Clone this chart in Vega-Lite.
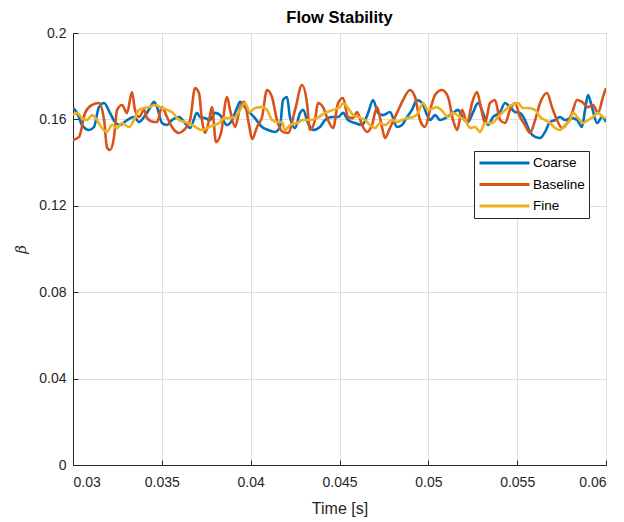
{
  "$schema": "https://vega.github.io/schema/vega-lite/v6.json",
  "width": 533,
  "height": 432,
  "autosize": {"type": "none"},
  "padding": {"left": 73, "top": 33, "right": 18, "bottom": 57},
  "background": "white",
  "title": {
    "text": "Flow Stability",
    "font": "Liberation Sans",
    "fontSize": 16.5,
    "fontWeight": "bold",
    "color": "#000000",
    "anchor": "middle",
    "frame": "group",
    "offset": 0
  },
  "config": {
    "view": {"stroke": "#262626", "strokeWidth": 1},
    "axis": {
      "labelFont": "Liberation Sans",
      "labelFontSize": 14,
      "labelColor": "#262626",
      "titleFont": "Liberation Sans",
      "titleFontSize": 16,
      "titleFontWeight": "normal",
      "titleColor": "#262626",
      "domainColor": "#262626",
      "tickColor": "#262626",
      "tickSize": -5,
      "grid": true,
      "gridColor": "#dedede",
      "gridWidth": 1
    },
    "legend": {
      "orient": "none",
      "legendX": 401,
      "legendY": 118,
      "strokeColor": "#262626",
      "fillColor": "white",
      "padding": 4,
      "symbolType": "stroke",
      "symbolStrokeWidth": 3,
      "symbolSize": 2500,
      "clipHeight": 16,
      "labelFont": "Liberation Sans",
      "labelFontSize": 13.5,
      "labelColor": "#000000",
      "labelOffset": 2,
      "rowPadding": 5.5
    }
  },
  "datasets": {
    "coarse": [
      {"t":0.03,"b":0.1653},{"t":0.03023,"b":0.1630},{"t":0.03051,"b":0.1574},{"t":0.03090,"b":0.1551},{"t":0.03118,"b":0.1565},{"t":0.03146,"b":0.1657},{"t":0.03175,"b":0.1676},{"t":0.03208,"b":0.1630},{"t":0.03236,"b":0.1588},{"t":0.03265,"b":0.1574},{"t":0.03304,"b":0.1597},{"t":0.03343,"b":0.1611},{"t":0.03372,"b":0.1588},{"t":0.03400,"b":0.1611},{"t":0.03433,"b":0.1653},{"t":0.03456,"b":0.1681},{"t":0.03473,"b":0.1657},{"t":0.03501,"b":0.1583},{"t":0.03529,"b":0.1574},{"t":0.03557,"b":0.1597},{"t":0.03597,"b":0.1611},{"t":0.03630,"b":0.1583},{"t":0.03659,"b":0.1560},{"t":0.03698,"b":0.1630},{"t":0.03715,"b":0.1611},{"t":0.03743,"b":0.1606},{"t":0.03771,"b":0.1597},{"t":0.03799,"b":0.1630},{"t":0.03827,"b":0.1620},{"t":0.03867,"b":0.1574},{"t":0.03895,"b":0.1597},{"t":0.03923,"b":0.1653},{"t":0.03940,"b":0.1681},{"t":0.03968,"b":0.1657},{"t":0.03996,"b":0.1630},{"t":0.04024,"b":0.1606},{"t":0.04064,"b":0.1565},{"t":0.04098,"b":0.1551},{"t":0.04137,"b":0.1542},{"t":0.04165,"b":0.1565},{"t":0.04182,"b":0.1690},{"t":0.04205,"b":0.1704},{"t":0.04221,"b":0.1611},{"t":0.04250,"b":0.1560},{"t":0.04278,"b":0.1630},{"t":0.04295,"b":0.1644},{"t":0.04323,"b":0.1583},{"t":0.04351,"b":0.1551},{"t":0.04390,"b":0.1565},{"t":0.04419,"b":0.1597},{"t":0.04458,"b":0.1611},{"t":0.04492,"b":0.1611},{"t":0.04520,"b":0.1630},{"t":0.04548,"b":0.1597},{"t":0.04587,"b":0.1583},{"t":0.04627,"b":0.1574},{"t":0.04661,"b":0.1630},{"t":0.04689,"b":0.1690},{"t":0.04717,"b":0.1630},{"t":0.04745,"b":0.1620},{"t":0.04784,"b":0.1634},{"t":0.04824,"b":0.1565},{"t":0.04852,"b":0.1574},{"t":0.04880,"b":0.1611},{"t":0.04908,"b":0.1644},{"t":0.04936,"b":0.1690},{"t":0.04965,"b":0.1676},{"t":0.04993,"b":0.1620},{"t":0.05010,"b":0.1597},{"t":0.05038,"b":0.1620},{"t":0.05066,"b":0.1597},{"t":0.05105,"b":0.1611},{"t":0.05139,"b":0.1630},{"t":0.05167,"b":0.1644},{"t":0.05195,"b":0.1606},{"t":0.05223,"b":0.1588},{"t":0.05252,"b":0.1634},{"t":0.05280,"b":0.1676},{"t":0.05308,"b":0.1630},{"t":0.05336,"b":0.1574},{"t":0.05364,"b":0.1611},{"t":0.05404,"b":0.1634},{"t":0.05432,"b":0.1676},{"t":0.05460,"b":0.1657},{"t":0.05488,"b":0.1634},{"t":0.05516,"b":0.1630},{"t":0.05544,"b":0.1597},{"t":0.05572,"b":0.1542},{"t":0.05601,"b":0.1519},{"t":0.05629,"b":0.1514},{"t":0.05657,"b":0.1542},{"t":0.05685,"b":0.1588},{"t":0.05713,"b":0.1597},{"t":0.05741,"b":0.1611},{"t":0.05769,"b":0.1597},{"t":0.05809,"b":0.1606},{"t":0.05837,"b":0.1597},{"t":0.05865,"b":0.1565},{"t":0.05882,"b":0.1644},{"t":0.05899,"b":0.1713},{"t":0.05921,"b":0.1657},{"t":0.05950,"b":0.1583},{"t":0.05978,"b":0.1611},{"t":0.06,"b":0.1588}
    ],
    "baseline": [
      {"t":0.03,"b":0.1505},{"t":0.03034,"b":0.1519},{"t":0.03068,"b":0.1630},{"t":0.03107,"b":0.1667},{"t":0.03146,"b":0.1676},{"t":0.03175,"b":0.1597},{"t":0.03191,"b":0.1472},{"t":0.03208,"b":0.1458},{"t":0.03231,"b":0.1519},{"t":0.03248,"b":0.1644},{"t":0.03276,"b":0.1667},{"t":0.03304,"b":0.1630},{"t":0.03332,"b":0.1727},{"t":0.03349,"b":0.1644},{"t":0.03372,"b":0.1611},{"t":0.03400,"b":0.1644},{"t":0.03417,"b":0.1606},{"t":0.03456,"b":0.1588},{"t":0.03473,"b":0.1588},{"t":0.03501,"b":0.1657},{"t":0.03529,"b":0.1611},{"t":0.03557,"b":0.1565},{"t":0.03597,"b":0.1537},{"t":0.03625,"b":0.1551},{"t":0.03659,"b":0.1597},{"t":0.03687,"b":0.1745},{"t":0.03709,"b":0.1722},{"t":0.03726,"b":0.1597},{"t":0.03743,"b":0.1537},{"t":0.03766,"b":0.1597},{"t":0.03782,"b":0.1657},{"t":0.03805,"b":0.1495},{"t":0.03833,"b":0.1537},{"t":0.03867,"b":0.1704},{"t":0.03884,"b":0.1644},{"t":0.03912,"b":0.1565},{"t":0.03940,"b":0.1653},{"t":0.03963,"b":0.1681},{"t":0.03991,"b":0.1574},{"t":0.04008,"b":0.1509},{"t":0.04036,"b":0.1565},{"t":0.04064,"b":0.1611},{"t":0.04092,"b":0.1736},{"t":0.04120,"b":0.1704},{"t":0.04148,"b":0.1597},{"t":0.04182,"b":0.1542},{"t":0.04210,"b":0.1537},{"t":0.04250,"b":0.1644},{"t":0.04289,"b":0.1759},{"t":0.04317,"b":0.1676},{"t":0.04334,"b":0.1551},{"t":0.04362,"b":0.1597},{"t":0.04379,"b":0.1676},{"t":0.04407,"b":0.1657},{"t":0.04435,"b":0.1597},{"t":0.04464,"b":0.1560},{"t":0.04492,"b":0.1676},{"t":0.04520,"b":0.1699},{"t":0.04548,"b":0.1611},{"t":0.04576,"b":0.1606},{"t":0.04599,"b":0.1634},{"t":0.04627,"b":0.1574},{"t":0.04655,"b":0.1542},{"t":0.04683,"b":0.1574},{"t":0.04711,"b":0.1657},{"t":0.04739,"b":0.1565},{"t":0.04756,"b":0.1514},{"t":0.04784,"b":0.1560},{"t":0.04824,"b":0.1630},{"t":0.04858,"b":0.1690},{"t":0.04897,"b":0.1736},{"t":0.04925,"b":0.1704},{"t":0.04953,"b":0.1597},{"t":0.04981,"b":0.1565},{"t":0.05010,"b":0.1644},{"t":0.05038,"b":0.1713},{"t":0.05077,"b":0.1736},{"t":0.05111,"b":0.1704},{"t":0.05139,"b":0.1597},{"t":0.05162,"b":0.1551},{"t":0.05190,"b":0.1644},{"t":0.05218,"b":0.1583},{"t":0.05246,"b":0.1676},{"t":0.05274,"b":0.1727},{"t":0.05291,"b":0.1676},{"t":0.05319,"b":0.1583},{"t":0.05347,"b":0.1676},{"t":0.05375,"b":0.1690},{"t":0.05404,"b":0.1597},{"t":0.05432,"b":0.1583},{"t":0.05460,"b":0.1644},{"t":0.05488,"b":0.1676},{"t":0.05516,"b":0.1611},{"t":0.05544,"b":0.1574},{"t":0.05572,"b":0.1537},{"t":0.05601,"b":0.1597},{"t":0.05629,"b":0.1676},{"t":0.05668,"b":0.1722},{"t":0.05696,"b":0.1657},{"t":0.05724,"b":0.1597},{"t":0.05753,"b":0.1560},{"t":0.05781,"b":0.1583},{"t":0.05809,"b":0.1630},{"t":0.05837,"b":0.1690},{"t":0.05865,"b":0.1681},{"t":0.05899,"b":0.1657},{"t":0.05927,"b":0.1667},{"t":0.05955,"b":0.1630},{"t":0.05983,"b":0.1704},{"t":0.06,"b":0.1745}
    ],
    "fine": [
      {"t":0.03,"b":0.1620},{"t":0.03023,"b":0.1630},{"t":0.03051,"b":0.1606},{"t":0.03079,"b":0.1597},{"t":0.03107,"b":0.1620},{"t":0.03135,"b":0.1597},{"t":0.03163,"b":0.1560},{"t":0.03191,"b":0.1542},{"t":0.03220,"b":0.1574},{"t":0.03248,"b":0.1560},{"t":0.03276,"b":0.1583},{"t":0.03315,"b":0.1565},{"t":0.03343,"b":0.1597},{"t":0.03372,"b":0.1644},{"t":0.03400,"b":0.1653},{"t":0.03428,"b":0.1657},{"t":0.03462,"b":0.1667},{"t":0.03490,"b":0.1657},{"t":0.03529,"b":0.1644},{"t":0.03557,"b":0.1634},{"t":0.03597,"b":0.1597},{"t":0.03630,"b":0.1588},{"t":0.03670,"b":0.1574},{"t":0.03698,"b":0.1560},{"t":0.03726,"b":0.1551},{"t":0.03754,"b":0.1560},{"t":0.03794,"b":0.1574},{"t":0.03822,"b":0.1583},{"t":0.03850,"b":0.1606},{"t":0.03878,"b":0.1606},{"t":0.03912,"b":0.1611},{"t":0.03940,"b":0.1644},{"t":0.03968,"b":0.1676},{"t":0.03996,"b":0.1634},{"t":0.04024,"b":0.1653},{"t":0.04064,"b":0.1657},{"t":0.04092,"b":0.1644},{"t":0.04120,"b":0.1597},{"t":0.04148,"b":0.1588},{"t":0.04176,"b":0.1588},{"t":0.04193,"b":0.1551},{"t":0.04221,"b":0.1574},{"t":0.04261,"b":0.1583},{"t":0.04295,"b":0.1597},{"t":0.04334,"b":0.1597},{"t":0.04373,"b":0.1606},{"t":0.04419,"b":0.1630},{"t":0.04464,"b":0.1644},{"t":0.04503,"b":0.1657},{"t":0.04520,"b":0.1676},{"t":0.04548,"b":0.1653},{"t":0.04576,"b":0.1620},{"t":0.04604,"b":0.1611},{"t":0.04644,"b":0.1597},{"t":0.04672,"b":0.1574},{"t":0.04700,"b":0.1560},{"t":0.04728,"b":0.1583},{"t":0.04756,"b":0.1574},{"t":0.04796,"b":0.1597},{"t":0.04824,"b":0.1588},{"t":0.04852,"b":0.1597},{"t":0.04880,"b":0.1606},{"t":0.04914,"b":0.1611},{"t":0.04942,"b":0.1630},{"t":0.04970,"b":0.1676},{"t":0.04998,"b":0.1644},{"t":0.05049,"b":0.1657},{"t":0.05083,"b":0.1634},{"t":0.05111,"b":0.1611},{"t":0.05139,"b":0.1630},{"t":0.05178,"b":0.1611},{"t":0.05207,"b":0.1597},{"t":0.05235,"b":0.1560},{"t":0.05263,"b":0.1565},{"t":0.05291,"b":0.1542},{"t":0.05319,"b":0.1583},{"t":0.05359,"b":0.1583},{"t":0.05392,"b":0.1611},{"t":0.05432,"b":0.1644},{"t":0.05471,"b":0.1667},{"t":0.05505,"b":0.1676},{"t":0.05533,"b":0.1653},{"t":0.05561,"b":0.1653},{"t":0.05601,"b":0.1644},{"t":0.05629,"b":0.1611},{"t":0.05657,"b":0.1597},{"t":0.05685,"b":0.1583},{"t":0.05713,"b":0.1560},{"t":0.05741,"b":0.1551},{"t":0.05769,"b":0.1574},{"t":0.05798,"b":0.1597},{"t":0.05815,"b":0.1630},{"t":0.05843,"b":0.1606},{"t":0.05871,"b":0.1583},{"t":0.05899,"b":0.1597},{"t":0.05927,"b":0.1611},{"t":0.05955,"b":0.1630},{"t":0.05983,"b":0.1611},{"t":0.06,"b":0.1606}
    ]
  },
  "encoding": {
    "x": {
      "field": "t",
      "type": "quantitative",
      "scale": {"domain": [0.03, 0.06], "nice": false, "zero": false},
      "axis": {
        "title": "Time [s]",
        "values": [0.03, 0.035, 0.04, 0.045, 0.05, 0.055, 0.06],
        "format": "~g",
        "labelPadding": 15,
        "titlePadding": 11
      }
    },
    "y": {
      "field": "b",
      "type": "quantitative",
      "scale": {"domain": [0, 0.2], "nice": false},
      "axis": {
        "title": "β",
        "titleFont": "DejaVu Serif",
        "titleFontStyle": "italic",
        "titleFontSize": 15,
        "values": [0, 0.04, 0.08, 0.12, 0.16, 0.2],
        "format": "~g",
        "labelPadding": 12,
        "titlePadding": 10
      }
    },
    "color": {
      "scale": {
        "domain": ["Coarse", "Baseline", "Fine"],
        "range": ["#0072BD", "#D95319", "#EDB120"]
      },
      "legend": {"title": null}
    }
  },
  "layer": [
    {
      "data": {"name": "coarse"},
      "mark": {"type": "line", "interpolate": "monotone", "strokeWidth": 2.6, "clip": true},
      "encoding": {"color": {"datum": "Coarse"}}
    },
    {
      "data": {"name": "baseline"},
      "mark": {"type": "line", "interpolate": "monotone", "strokeWidth": 2.6, "clip": true},
      "encoding": {"color": {"datum": "Baseline"}}
    },
    {
      "data": {"name": "fine"},
      "mark": {"type": "line", "interpolate": "monotone", "strokeWidth": 2.6, "clip": true},
      "encoding": {"color": {"datum": "Fine"}}
    }
  ]
}
